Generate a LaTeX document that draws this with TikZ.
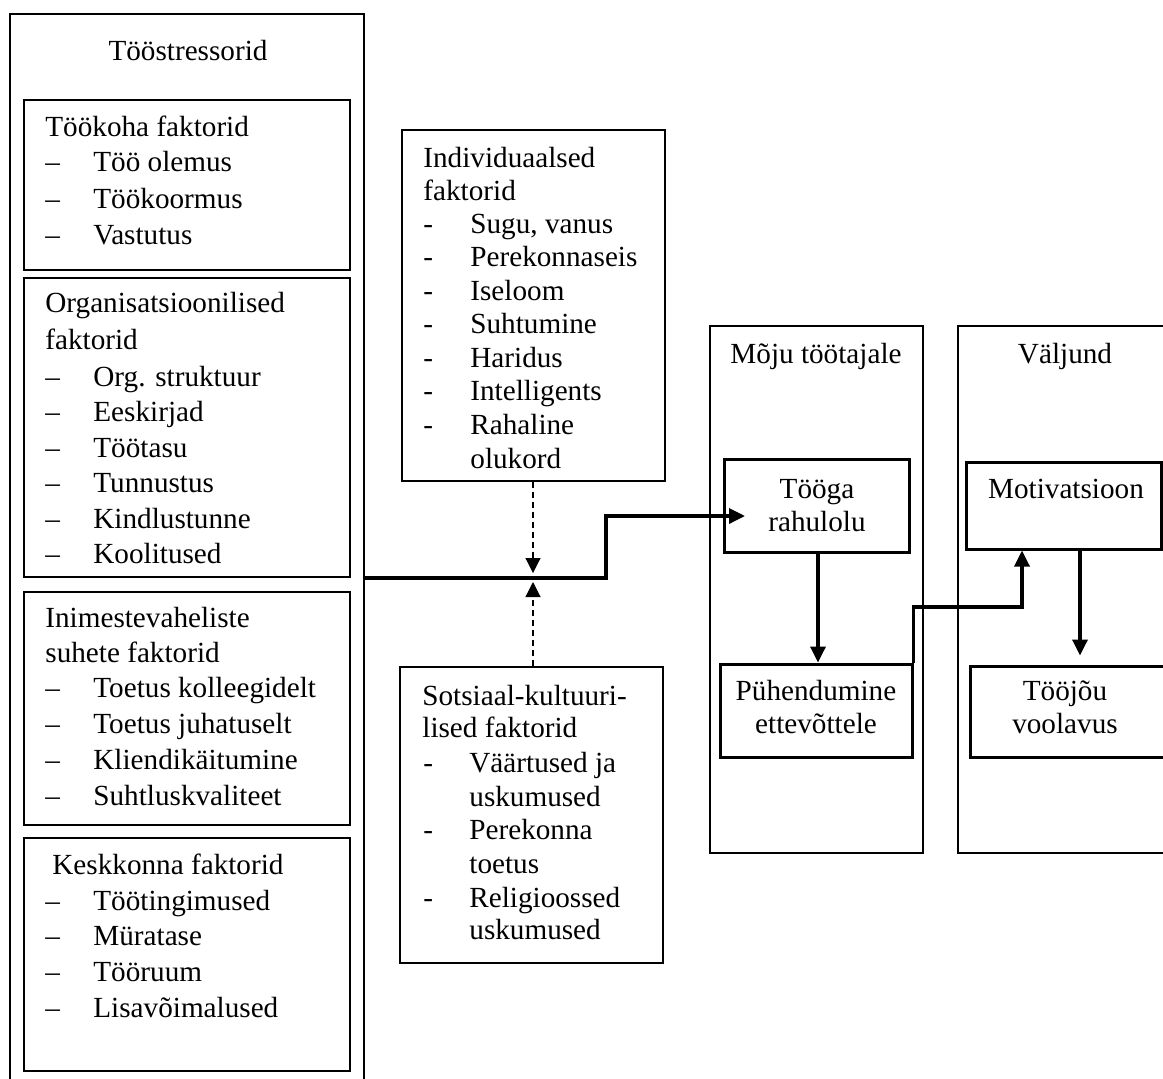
\documentclass[tikz,border=0pt]{standalone}
\usepackage{fontspec}
\setmainfont{Liberation Serif}
\usetikzlibrary{arrows.meta,fit,calc}
\begin{document}
\begin{tikzpicture}[x=0.5pt,y=-0.5pt,
  every node/.style={font=\fontsize{14.6}{17}\selectfont, inner sep=0pt},
  thinbox/.style={draw, line width=0.6pt, inner sep=0pt},
  thickbox/.style={draw, line width=1.5pt, inner sep=0pt},
  outerbox/.style={draw, line width=1.3pt, inner sep=0pt},
  txt/.style={anchor=base west},
  ctxt/.style={anchor=base},
  arr/.style={line width=1.7pt, -{Triangle[length=8pt,width=7.5pt]}},
  dasharr/.style={line width=0.55pt, dash pattern=on 3pt off 2pt, -{Triangle[length=7.5pt,width=7.5pt]}}
]
\useasboundingbox (0,0) rectangle (1163,1078);
\clip (0,0) rectangle (1163,1078);

% ---------- left column ----------
\node[outerbox, fit={(10,14) (364,1095)}] (outer) {};
\node[ctxt] (ttitle) at (188,60) {Tööstressorid};

\node[thinbox, fit={(24,100) (350,270)}] (b1) {};
\node[txt] (b1t) at (45,136.7) {Töökoha faktorid};
\foreach \t [count=\i from 0] in {Töö olemus,Töökoormus,Vastutus}{
  \node[txt] (b1d\i) at (45,171.7+36.6*\i) {–};
  \node[txt] (b1i\i) at (93,171.7+36.6*\i) {\t};
}

\node[thinbox, fit={(24,278) (350,577)}] (b2) {};
\node[txt] (b2t) at (45,312.7) {Organisatsioonilised};
\node[txt] (b2u) at (45,349) {faktorid};
\foreach \t [count=\i from 0] in {Org. struktuur,Eeskirjad,Töötasu,Tunnustus,Kindlustunne,Koolitused}{
  \node[txt] (b2d\i) at (45,386+35.5*\i) {–};
  \node[txt] (b2i\i) at (93,386+35.5*\i) {\t};
}

\node[thinbox, fit={(24,592) (350,825)}] (b3) {};
\node[txt] (b3t) at (45,627) {Inimestevaheliste};
\node[txt] (b3u) at (45,662) {suhete faktorid};
\foreach \t [count=\i from 0] in {Toetus kolleegidelt,Toetus juhatuselt,Kliendikäitumine,Suhtluskvaliteet}{
  \node[txt] (b3d\i) at (45,697+36.3*\i) {–};
  \node[txt] (b3i\i) at (93,697+36.3*\i) {\t};
}

\node[thinbox, fit={(24,838) (350,1071)}] (b4) {};
\node[txt] (b4t) at (52,874) {Keskkonna faktorid};
\foreach \t [count=\i from 0] in {Töötingimused,Müratase,Tööruum,Lisavõimalused}{
  \node[txt] (b4d\i) at (45,910+35.7*\i) {–};
  \node[txt] (b4i\i) at (93,910+35.7*\i) {\t};
}

% ---------- middle column ----------
\node[thinbox, fit={(402,130) (665,481)}] (ind) {};
\node[txt] (indt) at (423,167) {Individuaalsed};
\node[txt] (indu) at (423,200) {faktorid};
\foreach \t [count=\i from 0] in {{Sugu, vanus},Perekonnaseis,Iseloom,Suhtumine,Haridus,Intelligents,Rahaline}{
  \node[txt] (indd\i) at (423,233+33.5*\i) {-};
  \node[txt] (indi\i) at (470,233+33.5*\i) {\t};
}
\node[txt] (indx) at (470,468) {olukord};

\node[thinbox, fit={(400,667) (663,963)}] (sots) {};
\node[txt] (sotst) at (422,705) {Sotsiaal-kultuuri-};
\node[txt] (sotsu) at (422,737) {lised faktorid};
\node[txt] (sotsd1) at (423,772) {-};
\node[txt] (sotsi1) at (469,772) {Väärtused ja};
\node[txt] (sotsi1b) at (469,806) {uskumused};
\node[txt] (sotsd2) at (423,839) {-};
\node[txt] (sotsi2) at (469,839) {Perekonna};
\node[txt] (sotsi2b) at (469,873) {toetus};
\node[txt] (sotsd3) at (423,907) {-};
\node[txt] (sotsi3) at (469,907) {Religioossed};
\node[txt] (sotsi3b) at (469,939) {uskumused};

% ---------- right columns ----------
\node[thinbox, fit={(710,326) (923,853)}] (moju) {};
\node[ctxt] (mojut) at (816,363) {Mõju töötajale};
\node[thinbox, fit={(958,326) (1172,853)}] (valj) {};
\node[ctxt] (valjt) at (1065,363) {Väljund};

\node[thickbox, fit={(724,459) (909,552)}] (tooga) {};
\node[ctxt] (toogat) at (817,498) {Tööga};
\node[ctxt] (toogau) at (817,531) {rahulolu};

\node[thickbox, fit={(720,664) (912,757)}] (puh) {};
\node[ctxt] (puht) at (816,700) {Pühendumine};
\node[ctxt] (puhu) at (816,733) {ettevõttele};

\node[thickbox, fit={(966,462) (1161,549)}] (mot) {};
\node[ctxt] (mott) at (1066,498) {Motivatsioon};

\node[thickbox, fit={(970,666) (1175,757)}] (tj) {};
\node[ctxt] (tjt) at (1065,700) {Tööjõu};
\node[ctxt] (tju) at (1065,733) {voolavus};

% ---------- connectors ----------
\coordinate (j) at (533,578);
\coordinate (jt) at (533,573);
\coordinate (jb) at (533,582);
\coordinate (bend) at (606,516);
\coordinate (tip1) at (745,516);
\coordinate (m2) at (1022,607);
\coordinate (m3) at (1080,0);

\draw[arr] (outer.east |- j) -| (bend) -- (tip1);
\draw[dasharr] (ind.south -| j) -- (jt);
\draw[dasharr] (sots.north -| j) -- (jb);
\draw[arr] (tooga.south -| 818,0) -- (puh.north -| 818,0);
\draw[arr] (puh.north east) |- (m2) -- (m2 |- mot.south);
\draw[arr, shorten >=4.5pt] (mot.south -| m3) -- (tj.north -| m3);
\end{tikzpicture}
\end{document}
